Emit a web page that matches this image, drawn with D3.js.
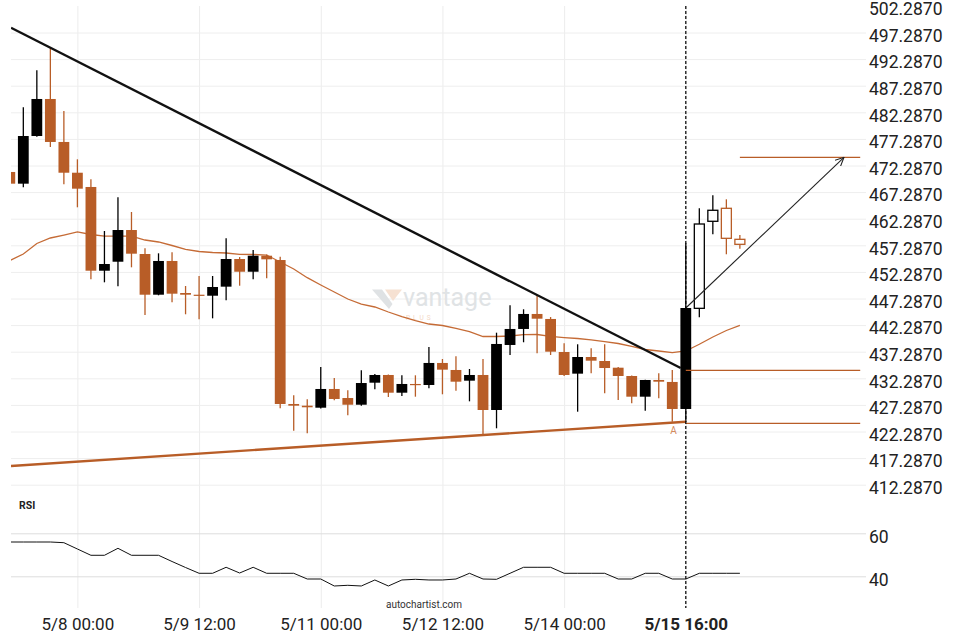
<!DOCTYPE html>
<html><head><meta charset="utf-8">
<script src="https://cdn.jsdelivr.net/npm/d3@7"></script>
<style>
html,body{margin:0;padding:0;background:#fff;}
svg{display:block;font-family:Roboto,"Noto Sans",sans-serif;}
</style></head><body>
<svg id="chart" width="960" height="640"></svg>
<script>
// ---------------- data ----------------
const opens  = [471.07,468.87,477.83,484.79,476.71,470.93,468.25,452.51,454.20,460.16,455.65,448.00,454.34,448.32,448.00,447.81,449.51,454.71,452.32,455.33,454.52,427.46,427.14,426.76,430.28,428.58,427.32,431.46,432.91,429.58,431.22,431.03,435.17,433.85,431.84,432.91,426.33,438.55,441.56,444.38,443.44,437.23,433.16,436.29,435.54,434.28,432.72,428.83,431.97,431.60,426.52,445.44,461.80,464.24,458.41];
const closes = [468.87,477.83,484.79,476.71,470.93,467.93,452.51,453.77,460.16,455.71,448.00,454.34,448.19,448.00,447.81,449.45,454.71,452.32,455.33,454.65,427.46,427.14,426.84,430.28,428.40,427.32,431.40,432.91,429.58,431.22,431.09,435.17,433.91,431.65,432.91,426.33,438.74,441.56,444.38,443.49,437.29,432.91,436.29,435.60,434.22,432.72,428.83,431.97,431.65,426.52,445.50,461.29,463.87,458.60,457.47];
const highs  = [471.30,483.23,490.18,494.32,482.53,473.45,469.69,459.98,466.31,463.55,456.72,455.78,455.97,449.64,451.52,451.52,458.60,455.08,456.40,455.55,455.14,429.09,428.34,434.41,432.34,430.03,433.79,433.10,433.00,432.85,432.85,438.17,435.92,436.43,434.04,435.92,440.86,446.01,445.26,447.95,443.80,438.87,438.68,437.93,438.68,434.41,432.80,432.00,433.23,433.85,457.67,464.24,466.69,465.93,459.22];
const lows   = [468.60,468.19,477.70,475.76,468.75,464.43,450.90,450.33,449.58,453.15,444.19,447.89,446.57,444.32,443.38,443.56,446.95,449.69,450.90,451.08,426.65,422.44,421.95,426.60,428.15,425.33,427.14,430.22,428.77,428.96,428.83,430.41,429.28,429.96,427.96,421.76,422.89,436.67,439.06,436.99,436.67,432.72,426.01,433.23,429.47,428.21,427.59,426.20,428.53,424.13,424.07,443.75,459.36,455.60,456.65];
const movingAverage = [454.43,455.65,457.63,458.66,459.22,459.79,459.32,459.03,459.03,459.03,458.28,457.91,457.25,456.53,456.12,455.93,455.84,455.60,455.56,455.46,454.15,452.83,451.20,449.82,448.51,447.19,446.25,445.69,444.75,443.90,443.15,442.49,442.21,441.65,441.08,440.14,440.14,440.24,440.48,440.52,440.18,439.95,439.77,439.52,439.20,438.83,438.27,437.70,437.42,437.10,437.42,438.68,440.05,441.27,442.25];
const rsiValues = [55.95,55.95,55.95,55.95,55.63,52.70,49.77,49.77,53.02,49.77,49.77,49.77,46.88,44.09,41.40,41.40,44.19,41.53,44.19,41.40,41.40,41.40,38.74,38.74,35.49,35.81,35.49,38.28,35.49,38.28,38.60,38.28,38.28,38.74,41.40,38.74,38.60,41.40,44.19,44.19,44.19,41.40,41.40,41.40,41.40,38.74,38.74,41.40,41.40,38.74,38.74,41.40,41.40,41.40,41.40];
const priceTicks = [412.287,417.287,422.287,427.287,432.287,437.287,442.287,447.287,452.287,457.287,462.287,467.287,472.287,477.287,482.287,487.287,492.287,497.287,502.287];
const rsiTicks = [40, 60];
const tickIndices = [5, 14, 23, 32, 41, 50];
const tickLabels = ["5/8 00:00","5/9 12:00","5/11 00:00","5/12 12:00","5/14 00:00","5/15 16:00"];
const resistanceLine = [[0.09, 498.19],[49.62, 434.22]];
const supportLine = [[0.09, 415.80],[50.0, 424.13]];
const levelLines = [[54, 62.9, 473.83],[50, 62.9, 433.79],[50, 62.9, 423.83]];
const forecastArrow = [[50, 445.50],[61.7, 473.83]];
const patternIndex = 50;
const firstProjected = 51;
const pointLabel = [49.1, 421.8, "A"];

// ---------------- drawing ----------------
const UP = "#000000", DOWN = "#b85d27";
const svg = d3.select("#chart");
const L = 11, R = 866;
const x = d3.scaleLinear().domain([0, 60]).range([9.8, 821.0]);
const y = d3.scaleLinear().domain([412.287, 502.287]).range([484.7, 5.9]);
const ry = d3.scaleLinear().domain([40, 60]).range([576.3, 533.3]);

const defs = svg.append("defs");
defs.append("clipPath").attr("id","clipP").append("rect").attr("x",L).attr("y",0).attr("width",R-L).attr("height",500);
defs.append("marker").attr("id","arr").attr("viewBox","0 0 10 10").attr("refX",9.5).attr("refY",5)
  .attr("markerWidth",9).attr("markerHeight",9).attr("markerUnits","userSpaceOnUse").attr("orient","auto")
  .append("path").attr("d","M0,0.5 L9.5,5 L0,9.5").attr("fill","none").attr("stroke","#222").attr("stroke-width",1.2);

// x gridlines/axis
const xAxis = svg.append("g").attr("transform","translate(0,608)")
  .call(d3.axisBottom(x).tickValues(tickIndices).tickFormat((d,i)=>tickLabels[i]).tickSize(-602).tickPadding(10));
xAxis.select(".domain").remove();
xAxis.selectAll("line").attr("stroke","#ececec");
xAxis.selectAll("text").attr("font-size",17).attr("fill","#222").attr("font-family","Roboto")
  .attr("font-weight",(d,i)=>i===tickLabels.length-1?"bold":"normal");

// price axis
const yAxis = svg.append("g").attr("transform",`translate(${R},0)`)
  .call(d3.axisRight(y).tickValues(priceTicks).tickFormat(d=>d.toFixed(4)).tickSize(-(R-L)).tickPadding(3));
yAxis.select(".domain").remove();
yAxis.selectAll("line").attr("stroke","#eeeeee").attr("stroke-opacity",d=>d>500?0:1);
yAxis.selectAll("text").attr("font-size",17.5).attr("fill","#222").attr("dy","0.5em").attr("font-family","Roboto");

// rsi axis
const rAxis = svg.append("g").attr("transform",`translate(${R},0)`)
  .call(d3.axisRight(ry).tickValues(rsiTicks).tickFormat(d3.format("d")).tickSize(-(R-L)).tickPadding(3));
rAxis.select(".domain").remove();
rAxis.selectAll("line").attr("stroke","#dddddd");
rAxis.selectAll("text").attr("font-size",17.5).attr("fill","#222").attr("dy","0.5em").attr("font-family","Roboto");

// watermark
const wm = svg.append("g");
wm.append("path").attr("d","M372,289.5 L382,289.5 L392.5,304 L389,309 Z").attr("fill","#dfe2e4");
wm.append("path").attr("d","M385,289.5 L402,289.5 L393,301 Z").attr("fill","#f6e1d2");
wm.append("text").attr("x",403).attr("y",306).attr("font-size",25).attr("fill","#e0e3e5").text("vantage");
wm.append("text").attr("x",406).attr("y",320).attr("font-size",6.5).attr("letter-spacing",3).attr("fill","#f3d8c6").text("PLUS");

const P = svg.append("g").attr("clip-path","url(#clipP)");
const idx = d3.range(opens.length);

// moving average
P.append("path").datum(idx)
  .attr("d", d3.line().x(i=>x(i)).y(i=>y(movingAverage[i])))
  .attr("fill","none").attr("stroke","#c56b36").attr("stroke-width",1.3);

// candles
const col = i => closes[i] >= opens[i] ? UP : DOWN;
P.selectAll(".wick").data(idx).enter().append("line")
  .attr("x1",i=>x(i)).attr("x2",i=>x(i)).attr("y1",i=>y(highs[i])).attr("y2",i=>y(lows[i]))
  .attr("stroke",col).attr("stroke-width",1.3);
P.selectAll(".body").data(idx).enter().append("rect")
  .attr("x",i=>x(i)-(i>=firstProjected?5:5.4))
  .attr("width",i=>i>=firstProjected?10:10.8)
  .attr("y",i=>y(Math.max(opens[i],closes[i])))
  .attr("height",i=>Math.max(1.2, Math.abs(y(opens[i])-y(closes[i]))))
  .attr("fill",i=>i>=firstProjected?"#fff":col(i))
  .attr("stroke",i=>i>=firstProjected?col(i):"none").attr("stroke-width",1.3);

// trend lines
const tl = d3.line().x(d=>x(d[0])).y(d=>y(d[1]));
P.append("path").datum(resistanceLine).attr("d",tl).attr("stroke","#111").attr("stroke-width",2.4).attr("fill","none");
P.append("path").datum(supportLine).attr("d",tl).attr("stroke",DOWN).attr("stroke-width",2.4).attr("fill","none");

// level lines
P.selectAll(".lvl").data(levelLines).enter().append("line")
  .attr("x1",d=>x(d[0])).attr("x2",d=>x(d[1])).attr("y1",d=>y(d[2])).attr("y2",d=>y(d[2]))
  .attr("stroke",DOWN).attr("stroke-width",1.2);

// forecast arrow
P.append("path").datum(forecastArrow).attr("d",tl).attr("stroke","#222").attr("stroke-width",1.1)
  .attr("fill","none").attr("marker-end","url(#arr)");

// point label
svg.append("text").attr("x",x(pointLabel[0])).attr("y",y(pointLabel[1])).attr("text-anchor","middle")
  .attr("font-size",10).attr("fill","#d48a5c").text(pointLabel[2]);

// rsi line
svg.append("path").datum(idx)
  .attr("d", d3.line().x(i=>Math.max(L, x(i))).y(i=>ry(rsiValues[i])))
  .attr("fill","none").attr("stroke","#111").attr("stroke-width",1);

// dashed event line
svg.append("line").attr("x1",x(patternIndex)).attr("x2",x(patternIndex)).attr("y1",6).attr("y2",608)
  .attr("stroke","#000").attr("stroke-width",1.2).attr("stroke-dasharray","3,2");

// texts
svg.append("text").attr("x",19).attr("y",508.5).attr("font-size",10.5).attr("font-weight","bold").attr("fill","#222").text("RSI");
svg.append("text").attr("x",424).attr("y",608).attr("text-anchor","middle").attr("font-size",10).attr("fill","#333").text("autochartist.com");
</script>
</body></html>
